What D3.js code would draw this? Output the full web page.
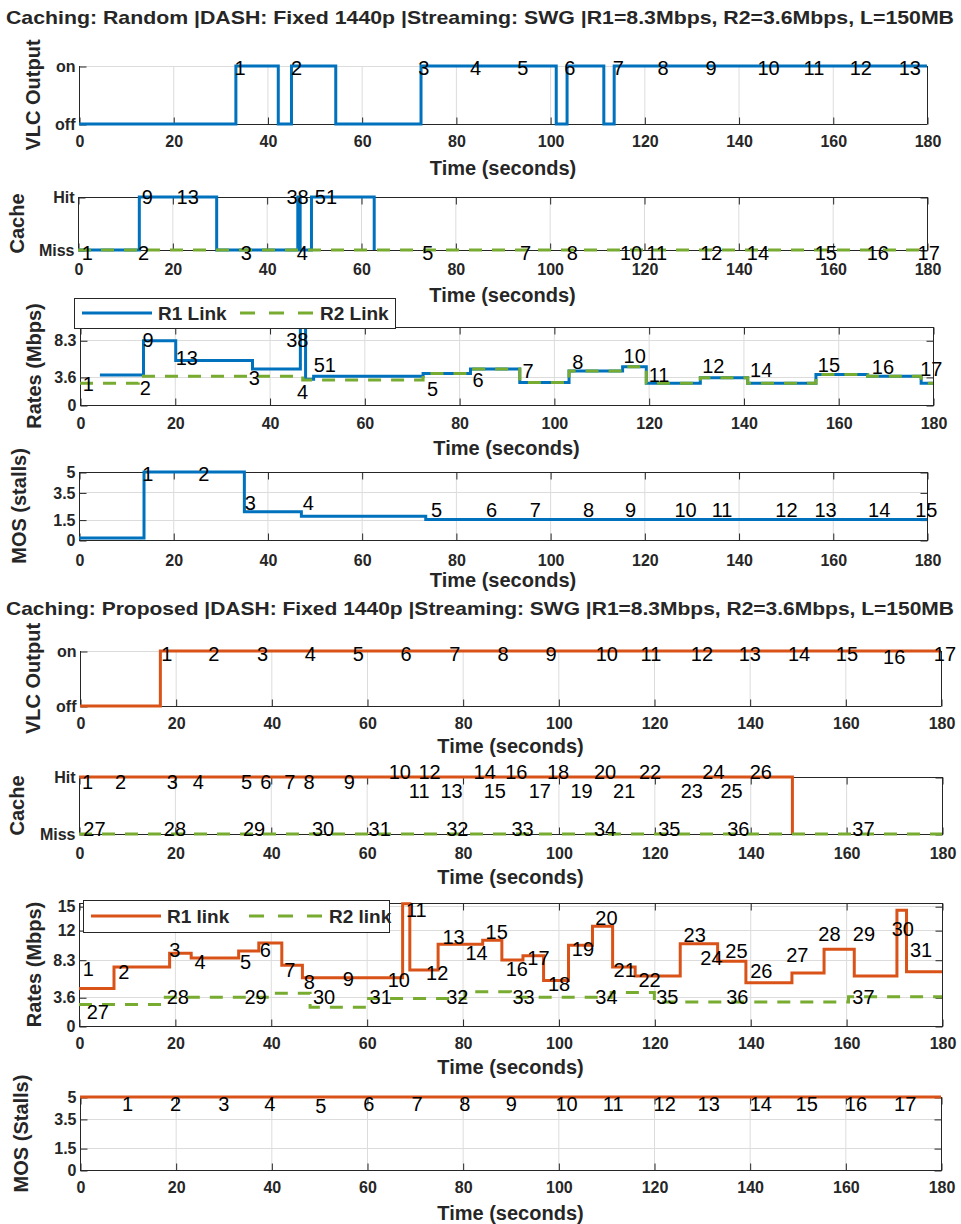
<!DOCTYPE html>
<html>
<head>
<meta charset="utf-8">
<script src="https://cdn.jsdelivr.net/npm/d3@7"></script>
<style>
  body { margin: 0; background: #fff; }
  text { font-family: "Liberation Sans", Arial, sans-serif; }
</style>
</head>
<body>
<svg id="chart" width="961" height="1224"></svg>
<script>
const svg = d3.select("#chart");

// ---------- shared ----------
const xTicks = [0, 20, 40, 60, 80, 100, 120, 140, 160, 180];
const titleRandom = "Caching: Random |DASH: Fixed 1440p |Streaming: SWG |R1=8.3Mbps, R2=3.6Mbps, L=150MB";
const titleProposed = "Caching: Proposed |DASH: Fixed 1440p |Streaming: SWG |R1=8.3Mbps, R2=3.6Mbps, L=150MB";

// ---------- Random caching ----------
// VLC output (0 = off, 1 = on), step breakpoints and values
const vlcRandT = [0, 33.3, 42.3, 45.1, 54.5, 72.6, 101.3, 103.6, 111.4, 113.6, 180];
const vlcRandV = [0, 1, 0, 1, 0, 1, 0, 1, 0, 1];
const vlcRandLblText = ["1", "2", "3", "4", "5", "6", "7", "8", "9", "10", "11", "12", "13"];
const vlcRandLblT = [33, 45, 72, 83, 93, 103, 113.3, 122.8, 133, 144, 153.8, 163.6, 174];
const vlcRandLblV = [0.97, 0.97, 0.97, 0.97, 0.97, 0.97, 0.97, 0.97, 0.97, 0.97, 0.97, 0.97, 0.97];

// Cache (0 = miss, 1 = hit)
const cacheRandR1T = [0, 13, 29.4, 46.6, 47.1, 49.5, 62.8, 62.8];
const cacheRandR1V = [0, 1, 0, 1, 0, 1, 0];
const cacheRandR2T = [0, 180];
const cacheRandR2V = [0];
const cacheRandLblText = ["1", "2", "3", "4", "5", "7", "8", "10", "11", "12", "14", "15", "16", "17", "9", "13", "38", "51"];
const cacheRandLblT = [0.8, 12.7, 34.5, 46.4, 73, 93.7, 103.6, 114.9, 120.5, 131.9, 141.8, 156.2, 167.2, 178, 13.5, 20.9, 44.2, 50.2];
const cacheRandLblV = [-0.06, -0.06, -0.06, -0.06, -0.06, -0.06, -0.06, -0.06, -0.06, -0.06, -0.06, -0.06, -0.06, -0.06, 1, 1, 1, 1];

// Rates (Mbps)
const rateRandR1T = [4.2, 13.4, 20.2, 36.4, 46.5, 47.6, 49.3, 72.4, 82.4, 92.8, 103.2, 114.5, 119.5, 130.9, 140.9, 155.3, 166.2, 177.5, 180];
const rateRandR1V = [3.85, 8.25, 5.7, 4.6, 10, 3.3, 3.7, 4.05, 4.6, 2.9, 4.35, 4.9, 2.8, 3.5, 2.8, 3.9, 3.7, 2.8];
const rateRandR2T = [0, 12.3, 47, 72.4, 82.4, 92.8, 103.2, 114.5, 119.5, 130.9, 140.9, 155.3, 166.2, 177.5, 180];
const rateRandR2V = [2.8, 3.7, 3.2, 4.05, 4.6, 2.9, 4.35, 4.9, 2.8, 3.5, 2.8, 3.9, 3.7, 2.8];
const rateRandLblText = ["1", "2", "9", "13", "3", "38", "4", "51", "5", "6", "7", "8", "10", "11", "12", "14", "15", "16", "17"];
const rateRandLblT = [0.6, 12.6, 13.2, 20.2, 35.6, 43.5, 45.8, 49.3, 73.2, 82.8, 93.4, 103.9, 114.7, 120, 131.3, 141.4, 155.7, 167.1, 177.3];
const rateRandLblV = [2.7, 2.2, 8.3, 6.0, 3.5, 8.3, 1.7, 5.1, 2.05, 3.2, 4.35, 5.55, 6.3, 3.85, 5.0, 4.5, 5.2, 4.9, 4.6];

// MOS (stalls)
const mosRandT = [0, 13.8, 35.1, 47.2, 73.6, 180];
const mosRandV = [0.15, 5, 2.08, 1.75, 1.5];
const mosRandLblText = ["1", "2", "3", "4", "5", "6", "7", "8", "9", "10", "11", "12", "13", "14", "15"];
const mosRandLblT = [13.4, 25.3, 35.2, 47.5, 74.7, 86.4, 95.7, 107, 115.9, 126.4, 134.3, 147.8, 156.1, 167.5, 177.5];
const mosRandLblV = [4.85, 4.85, 2.7, 2.7, 2.2, 2.2, 2.2, 2.2, 2.2, 2.2, 2.2, 2.2, 2.2, 2.2, 2.2];

// ---------- Proposed caching ----------
const vlcPropT = [0, 16.8, 180];
const vlcPropV = [0, 1];
const vlcPropLblText = ["1", "2", "3", "4", "5", "6", "7", "8", "9", "10", "11", "12", "13", "14", "15", "16", "17"];
const vlcPropLblT = [17, 26.8, 37, 47, 57, 67, 77.2, 87.3, 97.3, 107.8, 117.2, 127.7, 137.7, 148, 158, 167.9, 178.5];
const vlcPropLblV = [0.95, 0.95, 0.95, 0.95, 0.95, 0.95, 0.95, 0.95, 0.95, 0.95, 0.95, 0.95, 0.95, 0.95, 0.95, 0.89, 0.95];

const cachePropR1T = [0, 148.8, 148.8];
const cachePropR1V = [1, 0];
const cachePropR2T = [0, 180];
const cachePropR2V = [0];
const cachePropLblText = ["1", "2", "3", "4", "5", "6", "7", "8", "9",
  "10", "12", "14", "16", "18", "20", "22", "24", "26",
  "11", "13", "15", "17", "19", "21", "23", "25",
  "27", "28", "29", "30", "31", "32", "33", "34", "35", "36", "37"];
const cachePropLblT = [0.6, 7.5, 18.3, 23.7, 33.8, 37.8, 42.8, 46.8, 55.2,
  64.6, 70.8, 82.3, 88.9, 97.6, 107.4, 116.8, 130, 139.9,
  68.8, 75.4, 84.4, 93.8, 102.5, 111.4, 125.5, 133.8,
  0.9, 17.7, 34.2, 48.6, 60.4, 76.6, 90.2, 107.4, 120.8, 135.2, 161.3];
const cachePropLblV = [0.92, 0.92, 0.92, 0.92, 0.92, 0.92, 0.92, 0.92, 0.92,
  1.09, 1.09, 1.09, 1.09, 1.09, 1.09, 1.09, 1.09, 1.09,
  0.75, 0.75, 0.75, 0.75, 0.75, 0.75, 0.75, 0.75,
  0.1, 0.1, 0.1, 0.1, 0.1, 0.1, 0.1, 0.1, 0.1, 0.1, 0.1];

const ratePropR1T = [0, 7.3, 18.9, 23.4, 33.3, 37.5, 42.3, 46.6, 67.5, 69.0, 74.9, 84.2, 88.2, 92.6, 96.9, 102.1,
  107.1, 111.3, 116.0, 125.4, 133.2, 139.1, 148.7, 155.4, 161.7, 170.6, 172.6, 180];
const ratePropR1V = [4.7, 7.4, 9.1, 8.5, 9.4, 10.4, 7.6, 6.05, 15.3, 7.0, 10.25, 10.75, 8.25, 8.8, 5.7, 10.1,
  12.5, 7.4, 6.25, 10.3, 8.1, 5.4, 6.65, 9.6, 6.25, 14.5, 6.8];
const ratePropR2T = [0, 17.5, 39.6, 48.2, 60, 80.5, 90, 111, 120, 160.5, 180];
const ratePropR2V = [2.7, 3.6, 4.1, 2.35, 3.45, 4.3, 3.6, 4.2, 3.0, 3.65];
const ratePropLblText = ["1", "2", "3", "4", "5", "6", "7", "8", "9", "10", "11", "12", "13", "14", "15", "16",
  "17", "18", "19", "20", "21", "22", "23", "24", "25", "26", "27", "28", "29", "30", "31",
  "27", "28", "29", "30", "31", "32", "33", "34", "35", "36", "37"];
const ratePropLblT = [0.8, 8.2, 18.8, 24.1, 33.6, 37.7, 42.8, 46.9, 55.0, 64.4, 68.2, 72.4, 75.8, 80.6, 84.8, 89.0,
  93.5, 97.8, 102.8, 107.7, 111.5, 116.7, 126.1, 129.6, 134.8, 140.0, 147.5, 154.2, 161.4, 169.5, 173.3,
  1.6, 18.3, 34.5, 48.8, 60.6, 76.6, 90.4, 107.7, 120.4, 135, 161.3];
const ratePropLblV = [7.2, 6.8, 9.5, 8.0, 8.0, 9.6, 7.0, 5.5, 5.85, 5.75, 14.6, 6.6, 11.2, 9.2, 11.8, 7.1,
  8.5, 5.25, 9.7, 13.5, 7.0, 5.75, 11.4, 8.5, 9.4, 6.9, 8.9, 11.6, 11.6, 12.2, 9.5,
  1.8, 3.65, 3.65, 3.6, 3.65, 3.6, 3.65, 3.65, 3.65, 3.65, 3.7];

const mosPropT = [0, 180];
const mosPropV = [5];
const mosPropLblText = ["1", "2", "3", "4", "5", "6", "7", "8", "9", "10", "11", "12", "13", "14", "15", "16", "17"];
const mosPropLblT = [8.8, 18.8, 28.9, 38.5, 49.2, 59.2, 69.3, 79.3, 89, 99.4, 109.3, 119.9, 129.1, 140, 149.6, 159.9, 170.2];
const mosPropLblV = [4.55, 4.55, 4.55, 4.55, 4.4, 4.55, 4.55, 4.55, 4.55, 4.55, 4.55, 4.55, 4.55, 4.55, 4.55, 4.55, 4.55];

// ---------- colours ----------
const blue = "#0072BD";
const orange = "#D95319";
const green = "#77AC30";
const axisColor = "#262626";
const gridColor = "#dcdcdc";

// 画布上每个子图的位置
const layout = [
  { x0: 79, x1: 927, y0: 66, y1: 124, ymax: 1, yTicks: [0, 1], yFmt: ["off", "on"], box: false, ylab: "VLC Output", ylabX: 40, xlabY: 175, xPad: 11 },
  { x0: 78, x1: 927, y0: 197, y1: 250, ymax: 1, yTicks: [0, 1], yFmt: ["Miss", "Hit"], box: true, ylab: "Cache", ylabX: 24, xlabY: 302, xPad: 13 },
  { x0: 80, x1: 933, y0: 327, y1: 405, ymax: 10, yTicks: [0, 3.6, 8.3], yFmt: null, box: true, ylab: "Rates (Mbps)", ylabX: 41, xlabY: 455, xPad: 12 },
  { x0: 79, x1: 927, y0: 472, y1: 540, ymax: 5, yTicks: [0, 1.5, 3.5, 5], yFmt: null, box: true, ylab: "MOS (stalls)", ylabX: 26, xlabY: 587, xPad: 14 },
  { x0: 80, x1: 941, y0: 651, y1: 706, ymax: 1, yTicks: [0, 1], yFmt: ["off", "on"], box: false, ylab: "VLC Output", ylabX: 40, xlabY: 753, xPad: 11 },
  { x0: 79, x1: 942, y0: 777, y1: 834, ymax: 1, yTicks: [0, 1], yFmt: ["Miss", "Hit"], box: true, ylab: "Cache", ylabX: 24, xlabY: 884, xPad: 13 },
  { x0: 79, x1: 942, y0: 903, y1: 1026, ymax: 15.4, yTicks: [0, 3.6, 8.3, 12, 15], yFmt: null, box: true, ylab: "Rates (Mbps)", ylabX: 41, xlabY: 1074, xPad: 11 },
  { x0: 80, x1: 941, y0: 1097, y1: 1170, ymax: 5, yTicks: [0, 1.5, 3.5, 5], yFmt: null, box: true, ylab: "MOS (Stalls)", ylabX: 28, xlabY: 1220, xPad: 11 }
];

function stepPoints(ts, vs) {
  const pts = vs.map((v, i) => [ts[i], v]);
  pts.push([ts[ts.length - 1], vs[vs.length - 1]]);
  return pts;
}

function makePanel(L) {
  const x = d3.scaleLinear().domain([0, 180]).range([L.x0, L.x1]);
  const y = d3.scaleLinear().domain([0, L.ymax]).range([L.y1, L.y0]);
  const g = svg.append("g");

  // 网格
  g.selectAll(".gx").data(xTicks).enter().append("line")
    .attr("x1", d => x(d) + 0.5).attr("x2", d => x(d) + 0.5)
    .attr("y1", L.y0).attr("y2", L.y1)
    .attr("stroke", gridColor);
  g.selectAll(".gy").data(L.yTicks).enter().append("line")
    .attr("x1", L.x0).attr("x2", L.x1)
    .attr("y1", d => Math.round(y(d)) + 0.5).attr("y2", d => Math.round(y(d)) + 0.5)
    .attr("stroke", gridColor);

  const fmt = L.yFmt ? (d, i) => L.yFmt[i] : d => String(d);

  const xAxis = g.append("g")
    .attr("transform", `translate(0.5, ${L.y1 + 0.5})`)
    .call(d3.axisBottom(x).tickValues(xTicks).tickSize(-7).tickSizeOuter(0).tickPadding(L.xPad));
  const yAxis = g.append("g")
    .attr("transform", `translate(${L.x0 + 0.5}, 0.5)`)
    .call(d3.axisLeft(y).tickValues(L.yTicks).tickFormat(fmt).tickSize(-7).tickSizeOuter(0).tickPadding(4));

  if (L.box) {
    g.append("g")
      .attr("transform", `translate(0.5, ${L.y0 + 0.5})`)
      .call(d3.axisTop(x).tickValues(xTicks).tickFormat("").tickSize(-7).tickSizeOuter(0));
    g.append("g")
      .attr("transform", `translate(${L.x1 + 0.5}, 0.5)`)
      .call(d3.axisRight(y).tickValues(L.yTicks).tickFormat("").tickSize(-7).tickSizeOuter(0));
    g.append("rect")
      .attr("x", L.x0 + 0.5).attr("y", L.y0 + 0.5)
      .attr("width", L.x1 - L.x0).attr("height", L.y1 - L.y0)
      .attr("fill", "none").attr("stroke", axisColor);
  } else {
    g.append("line")
      .attr("x1", L.x0).attr("x2", L.x1 + 0.5)
      .attr("y1", L.y1 + 0.5).attr("y2", L.y1 + 0.5)
      .attr("stroke", axisColor);
    g.append("line")
      .attr("x1", L.x0 + 0.5).attr("x2", L.x0 + 0.5)
      .attr("y1", L.y0).attr("y2", L.y1)
      .attr("stroke", axisColor);
    g.append("line")
      .attr("x1", L.x1 + 0.5).attr("x2", L.x1 + 0.5)
      .attr("y1", L.y0).attr("y2", L.y1)
      .attr("stroke", axisColor);
  }

  g.selectAll(".domain").remove();
  g.selectAll(".tick line").attr("stroke", axisColor);
  g.selectAll(".tick text")
    .attr("fill", axisColor)
    .attr("font-size", 16)
    .attr("font-weight", "bold")
    .attr("font-family", '"Liberation Sans", Arial, sans-serif');

  // 轴标签
  g.append("text")
    .attr("x", (L.x0 + L.x1) / 2).attr("y", L.xlabY)
    .attr("text-anchor", "middle")
    .attr("font-size", 20).attr("font-weight", "bold").attr("fill", axisColor)
    .text("Time (seconds)");
  g.append("text")
    .attr("transform", `translate(${L.ylabX}, ${(L.y0 + L.y1) / 2}) rotate(-90)`)
    .attr("text-anchor", "middle")
    .attr("font-size", 20).attr("font-weight", "bold").attr("fill", axisColor)
    .text(L.ylab);

  return { g, x, y };
}

function drawStep(P, ts, vs, color, dashed) {
  const line = d3.line().x(d => P.x(d[0])).y(d => P.y(d[1])).curve(d3.curveStepAfter);
  P.g.append("path")
    .attr("d", line(stepPoints(ts, vs)))
    .attr("fill", "none")
    .attr("stroke", color)
    .attr("stroke-width", 3)
    .attr("stroke-dasharray", dashed ? "13,10" : null);
}

function drawLabels(P, texts, ts, vs) {
  P.g.selectAll(".ann").data(texts).enter().append("text")
    .attr("x", (d, i) => P.x(ts[i]))
    .attr("y", (d, i) => P.y(vs[i]))
    .attr("dy", "0.36em")
    .attr("font-size", 20)
    .attr("fill", "#000")
    .text(d => d);
}

function drawLegend(P, bx, by, bw, bh, c1, t1, t2) {
  const lg = P.g.append("g");
  const cy = by + bh / 2;
  lg.append("rect").attr("x", bx + 0.5).attr("y", by + 0.5).attr("width", bw).attr("height", bh)
    .attr("fill", "#fff").attr("stroke", axisColor);
  lg.append("line").attr("x1", bx + 8).attr("x2", bx + 78).attr("y1", cy).attr("y2", cy)
    .attr("stroke", c1).attr("stroke-width", 3);
  lg.append("text").attr("x", bx + 84).attr("y", cy).attr("dy", "0.36em")
    .attr("font-size", 19).attr("font-weight", "bold").attr("fill", axisColor).text(t1);
  lg.append("line").attr("x1", bx + 166).attr("x2", bx + 239).attr("y1", cy).attr("y2", cy)
    .attr("stroke", green).attr("stroke-width", 3).attr("stroke-dasharray", "15,14");
  lg.append("text").attr("x", bx + 246).attr("y", cy).attr("dy", "0.36em")
    .attr("font-size", 19).attr("font-weight", "bold").attr("fill", axisColor).text(t2);
}

// 标题
svg.append("text").attr("x", 480).attr("y", 24).attr("text-anchor", "middle")
  .attr("font-size", 19).attr("font-weight", "bold").attr("fill", axisColor)
  .attr("textLength", 948).attr("lengthAdjust", "spacingAndGlyphs")
  .text(titleRandom);
svg.append("text").attr("x", 480).attr("y", 615).attr("text-anchor", "middle")
  .attr("font-size", 19).attr("font-weight", "bold").attr("fill", axisColor)
  .attr("textLength", 948).attr("lengthAdjust", "spacingAndGlyphs")
  .text(titleProposed);

// ---- Random ----
const p1 = makePanel(layout[0]);
drawStep(p1, vlcRandT, vlcRandV, blue, false);
drawLabels(p1, vlcRandLblText, vlcRandLblT, vlcRandLblV);

const p2 = makePanel(layout[1]);
drawStep(p2, cacheRandR1T, cacheRandR1V, blue, false);
drawStep(p2, cacheRandR2T, cacheRandR2V, green, true);
drawLabels(p2, cacheRandLblText, cacheRandLblT, cacheRandLblV);

const p3 = makePanel(layout[2]);
drawStep(p3, rateRandR1T, rateRandR1V, blue, false);
drawStep(p3, rateRandR2T, rateRandR2V, green, true);
drawLabels(p3, rateRandLblText, rateRandLblT, rateRandLblV);
drawLegend(p3, 74, 298, 321, 30, blue, "R1 Link", "R2 Link");

const p4 = makePanel(layout[3]);
drawStep(p4, mosRandT, mosRandV, blue, false);
drawLabels(p4, mosRandLblText, mosRandLblT, mosRandLblV);

// ---- Proposed ----
const p5 = makePanel(layout[4]);
drawStep(p5, vlcPropT, vlcPropV, orange, false);
drawLabels(p5, vlcPropLblText, vlcPropLblT, vlcPropLblV);

const p6 = makePanel(layout[5]);
drawStep(p6, cachePropR1T, cachePropR1V, orange, false);
drawStep(p6, cachePropR2T, cachePropR2V, green, true);
drawLabels(p6, cachePropLblText, cachePropLblT, cachePropLblV);

const p7 = makePanel(layout[6]);
drawStep(p7, ratePropR1T, ratePropR1V, orange, false);
drawStep(p7, ratePropR2T, ratePropR2V, green, true);
drawLabels(p7, ratePropLblText, ratePropLblT, ratePropLblV);
drawLegend(p7, 83, 900, 306, 32, orange, "R1 link", "R2 link");

const p8 = makePanel(layout[7]);
drawStep(p8, mosPropT, mosPropV, orange, false);
drawLabels(p8, mosPropLblText, mosPropLblT, mosPropLblV);
</script>
</body>
</html>
